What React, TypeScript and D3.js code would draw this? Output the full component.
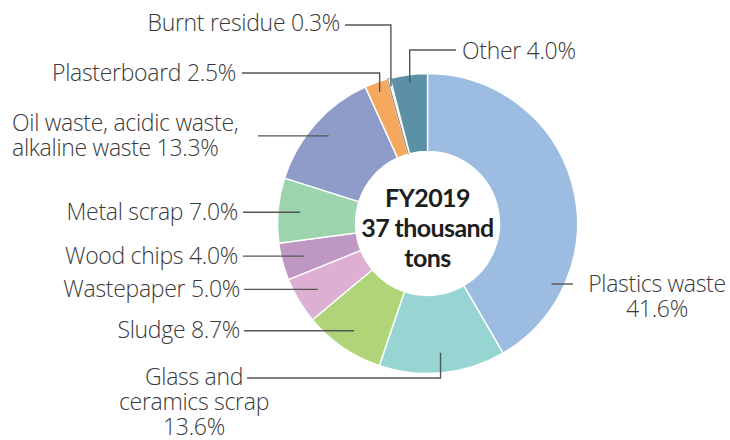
import React from "react";
import * as d3 from "d3";

const categories = [
  "Plastics waste",
  "Glass and ceramics scrap",
  "Sludge",
  "Wastepaper",
  "Wood chips",
  "Metal scrap",
  "Oil waste, acidic waste, alkaline waste",
  "Plasterboard",
  "Burnt residue",
  "Other",
];
const shares = [41.6, 13.6, 8.7, 5.0, 4.0, 7.0, 13.3, 2.5, 0.3, 4.0];
const colors = [
  "#9dbce1",
  "#97d5d3",
  "#b0d578",
  "#ddafd3",
  "#bf97c3",
  "#9bd4ad",
  "#8f9bc9",
  "#f4a95f",
  "#ffffff",
  "#5c90a6",
];
const centerLines = ["FY2019", "37 thousand", "tons"];

// label text lines (built from categories and shares)
const labelTexts: string[][] = [
  [categories[0], `${shares[0].toFixed(1)}%`],
  ["Glass and", "ceramics scrap", `${shares[1].toFixed(1)}%`],
  [`${categories[2]} ${shares[2].toFixed(1)}%`],
  [`${categories[3]} ${shares[3].toFixed(1)}%`],
  [`${categories[4]} ${shares[4].toFixed(1)}%`],
  [`${categories[5]} ${shares[5].toFixed(1)}%`],
  ["Oil waste, acidic waste,", `alkaline waste ${shares[6].toFixed(1)}%`],
  [`${categories[7]} ${shares[7].toFixed(1)}%`],
  [`${categories[8]} ${shares[8].toFixed(1)}%`],
  [`${categories[9]} ${shares[9].toFixed(1)}%`],
];

// layout (positions of label text / leader styles)
type Layout = {
  mode: "h" | "elbow" | "circle";
  anchor: "start" | "middle" | "end";
  textX: number;
  lineX: number;
  rho: number;
  leaderY?: number;
  textY?: number;
  textDy?: number;
};
const layout: Layout[] = [
  { mode: "circle", anchor: "middle", textX: 657, lineX: 573, rho: 138, leaderY: 284, textY: 292 },
  { mode: "elbow", anchor: "middle", textX: 194, lineX: 247, rho: 130, leaderY: 378, textY: 385 },
  { mode: "h", anchor: "end", textX: 240, lineX: 244, rho: 130, textDy: 7.5 },
  { mode: "h", anchor: "end", textX: 240, lineX: 244, rho: 128, textDy: 7.5 },
  { mode: "h", anchor: "end", textX: 238, lineX: 243, rho: 128, textDy: 7.5 },
  { mode: "h", anchor: "end", textX: 238, lineX: 243, rho: 128, textDy: 7.5 },
  { mode: "h", anchor: "start", textX: 12, lineX: 258, rho: 132, textDy: -5 },
  { mode: "elbow", anchor: "end", textX: 236, lineX: 242, rho: 140, leaderY: 73, textY: 81 },
  { mode: "elbow", anchor: "end", textX: 340, lineX: 345, rho: 142, leaderY: 25, textY: 31 },
  { mode: "elbow", anchor: "start", textX: 462, lineX: 456, rho: 142, leaderY: 50, textY: 59 },
];

const W = 730;
const H = 440;
const cx = 427.5;
const cy = 223.5;
const outerR = 150;
const innerR = 72;
const lineH = 24.8;
const labelFont = "'Open Sans', 'Noto Sans', sans-serif";
const textColor = "#3a3a3a";
const leaderColor = "#555";

export default function App() {
  const pie = d3
    .pie<number>()
    .sort(null)
    .value((d) => d)(shares);
  const arc = d3
    .arc<d3.PieArcDatum<number>>()
    .innerRadius(innerR)
    .outerRadius(outerR);

  const pt = (a: number, r: number) => [cx + r * Math.sin(a), cy - r * Math.cos(a)];

  return (
    <svg
      width={W}
      height={H}
      style={{ position: "absolute", left: 0, top: 0, background: "#fff" }}
    >
      <g transform={`translate(${cx},${cy})`}>
        {pie.map((p, i) => (
          <path
            key={i}
            d={arc(p) || ""}
            fill={colors[i]}
            stroke={i === 8 ? "#666" : "#fff"}
            strokeWidth={i === 8 ? 0.8 : 1.4}
          />
        ))}
      </g>
      {pie.map((p, i) => {
        const L = layout[i];
        const mid = (p.startAngle + p.endAngle) / 2;
        let ex: number, ey: number;
        let pathD = "";
        let firstBase = 0;
        if (L.mode === "circle") {
          const ly = L.leaderY!;
          const dy = ly - cy;
          ex = cx + Math.sqrt(L.rho * L.rho - dy * dy);
          ey = ly;
          pathD = `M${ex},${ey}H${L.lineX}`;
          firstBase = L.textY!;
        } else if (L.mode === "elbow") {
          [ex, ey] = pt(mid, L.rho);
          pathD = `M${L.lineX},${L.leaderY}H${ex}V${ey}`;
          firstBase = L.textY!;
        } else {
          [ex, ey] = pt(mid, L.rho);
          pathD = `M${L.lineX},${ey}H${ex}`;
          firstBase = ey + (L.textDy || 0);
        }
        return (
          <g key={i}>
            <path d={pathD} fill="none" stroke={leaderColor} strokeWidth={1.4} />
            <text
              x={L.textX}
              y={firstBase}
              textAnchor={L.anchor}
              fontFamily={labelFont}
              fontWeight={300}
              fontSize={23}
              letterSpacing={-0.3}
              fill={textColor}
            >
              {labelTexts[i].map((t, j) => (
                <tspan key={j} x={L.textX} y={firstBase + j * lineH}>
                  {t}
                </tspan>
              ))}
            </text>
          </g>
        );
      })}
      <text
        textAnchor="middle"
        fontFamily="Lato, 'Open Sans', sans-serif"
        fontWeight={700}
        fontSize={25}
        letterSpacing={-0.6}
        fill="#1e1e1e"
      >
        {centerLines.map((t, j) => (
          <tspan key={j} x={cx} y={207 + j * 30}>
            {t}
          </tspan>
        ))}
      </text>
    </svg>
  );
}
